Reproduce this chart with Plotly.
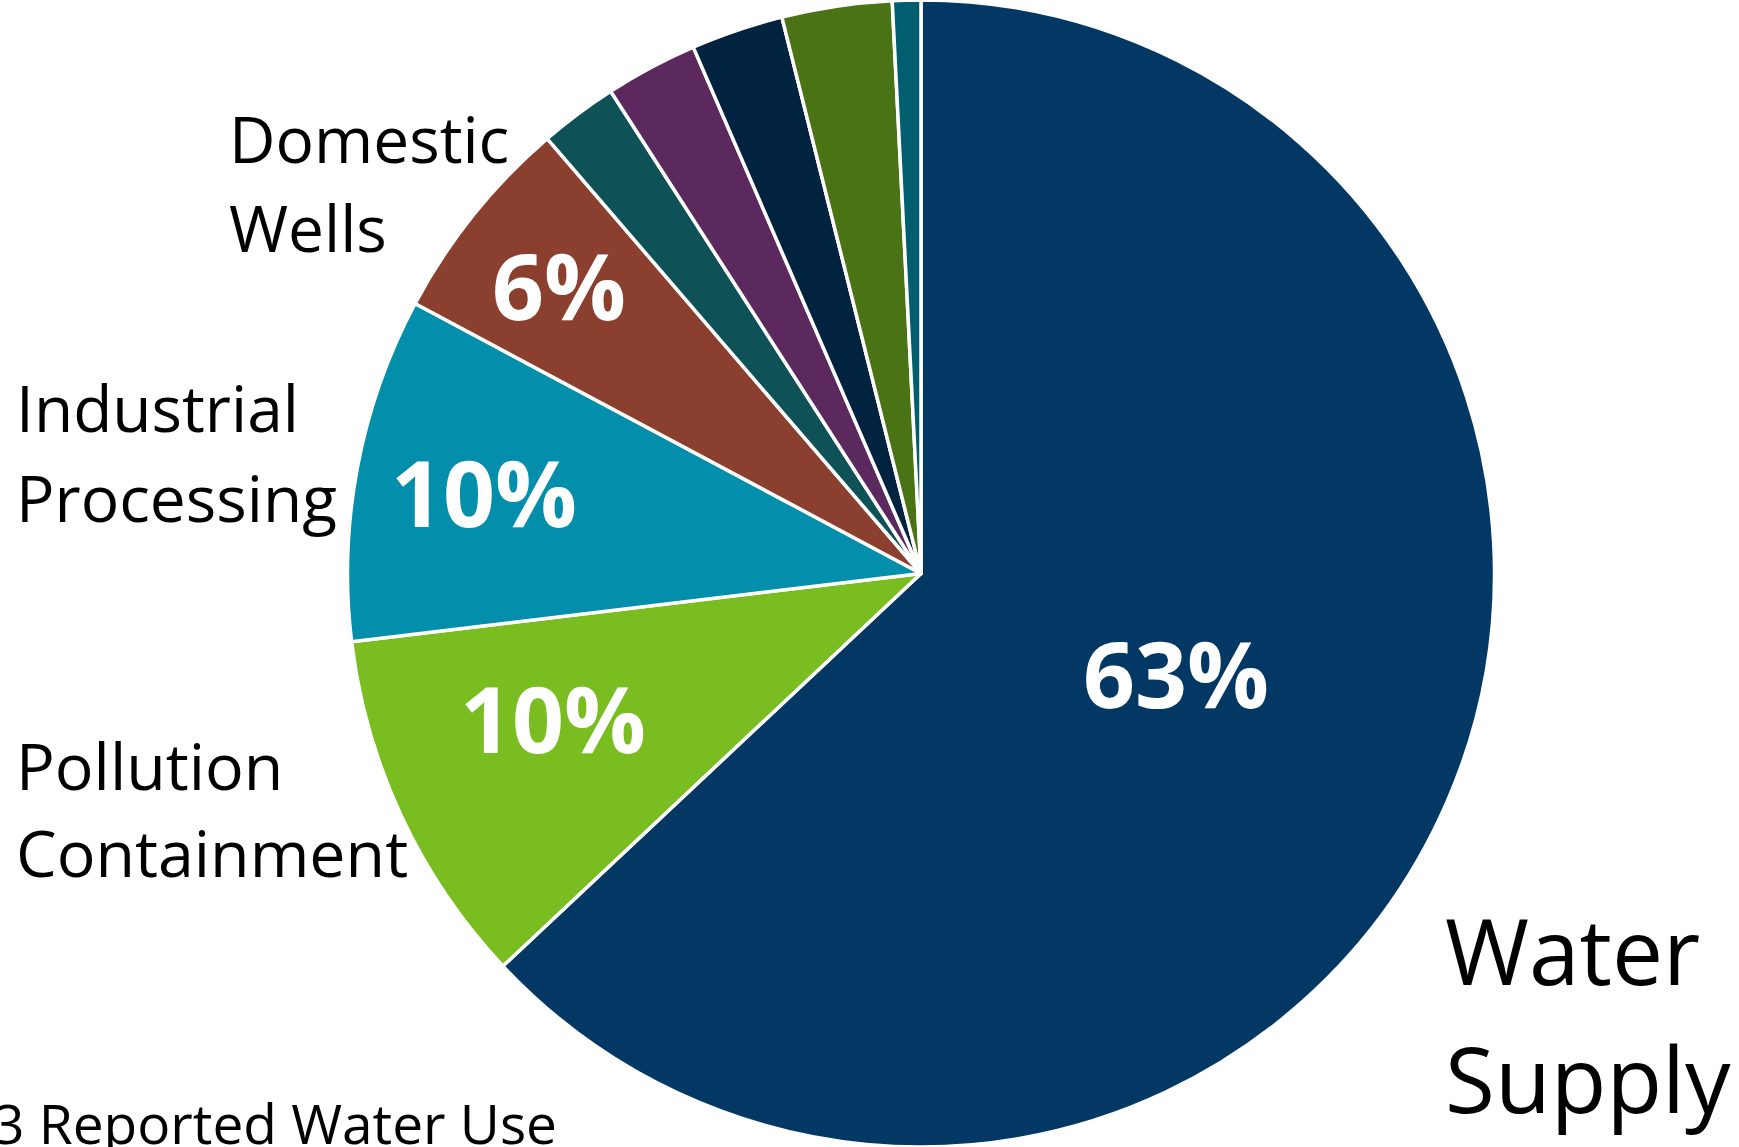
import math
import plotly.graph_objects as go

# ---- data ----
categories = ["Water Supply", "Pollution Containment", "Industrial Processing", "Domestic Wells",
              "Other A", "Other B", "Other C", "Other D", "Other E"]
values = [63.0, 10.1, 9.7, 5.9, 2.2, 2.6, 2.6, 3.1, 0.8]
pct_labels = ["63%", "10%", "10%", "6%", "", "", "", "", ""]
colors = ["#023863", "#7ABD21", "#038EAC", "#8B3F2E", "#0E5157", "#5C295E", "#02233F", "#4A7316", "#005E6E"]
footer_text = "3 Reported Water Use"

W, H = 1739, 1147
cx, cy, r = 921, 577, 573.5  # pie centre / radius in px (layout)

fig = go.Figure(go.Pie(
    labels=categories, values=values, sort=False, direction="clockwise", rotation=0,
    marker=dict(colors=colors, line=dict(color="white", width=3.5)),
    textinfo="none", textposition="none", hoverinfo="skip", showlegend=False,
    domain=dict(x=[(cx - r) / W, (cx + r) / W], y=[0, 1]),
))

def px(x, y):
    return x / W, 1 - y / H

ann = []
# percentage labels placed along each slice's mid-angle (radial fraction, angle tweak in deg)
radial = [0.478, 0.69, 0.774, 0.806]
tweak = [-1.7, 3.4, -0.3, -0.3]
total = sum(values)
cum = 0.0
for i, v in enumerate(values):
    mid = (cum + v / 2) / total * 360
    cum += v
    if not pct_labels[i]:
        continue
    a = math.radians(mid + tweak[i])
    rf = radial[i]
    x = cx + rf * r * math.sin(a)
    y = cy - rf * r * math.cos(a)
    X, Y = px(x, y)
    ann.append(dict(text=pct_labels[i], x=X, y=Y, xref="paper", yref="paper", showarrow=False,
                    xanchor="center", yanchor="middle", yshift=5,
                    font=dict(family="Open Sans", size=91, color="white", weight="bold")))

def line(text, x, baseline, size):
    X, Y = px(x, baseline - 0.388 * size)
    ann.append(dict(text=text, x=X, y=Y, xref="paper", yref="paper", showarrow=False,
                    xanchor="left", yanchor="middle", borderpad=0,
                    font=dict(family="Open Sans", size=size, color="black")))

line("Domestic", 228, 163, 64)
line("Wells", 228, 252, 64)
line("Industrial", 15, 432, 64)
line("Processing", 15, 522, 64)
line("Pollution", 15, 790, 64.5)
line("Containment", 15, 877, 64.5)
line("Water", 1444, 985, 91)
line("Supply", 1444, 1113, 91)
line(footer_text, -8, 1144, 55)

fig.update_layout(width=W, height=H, margin=dict(l=0, r=0, t=0, b=0),
                  paper_bgcolor="white", plot_bgcolor="white", annotations=ann)
fig.write_html("out.html", config={"displayModeBar": False},
               post_script="document.body.style.margin='0';document.body.style.overflow='hidden';")
